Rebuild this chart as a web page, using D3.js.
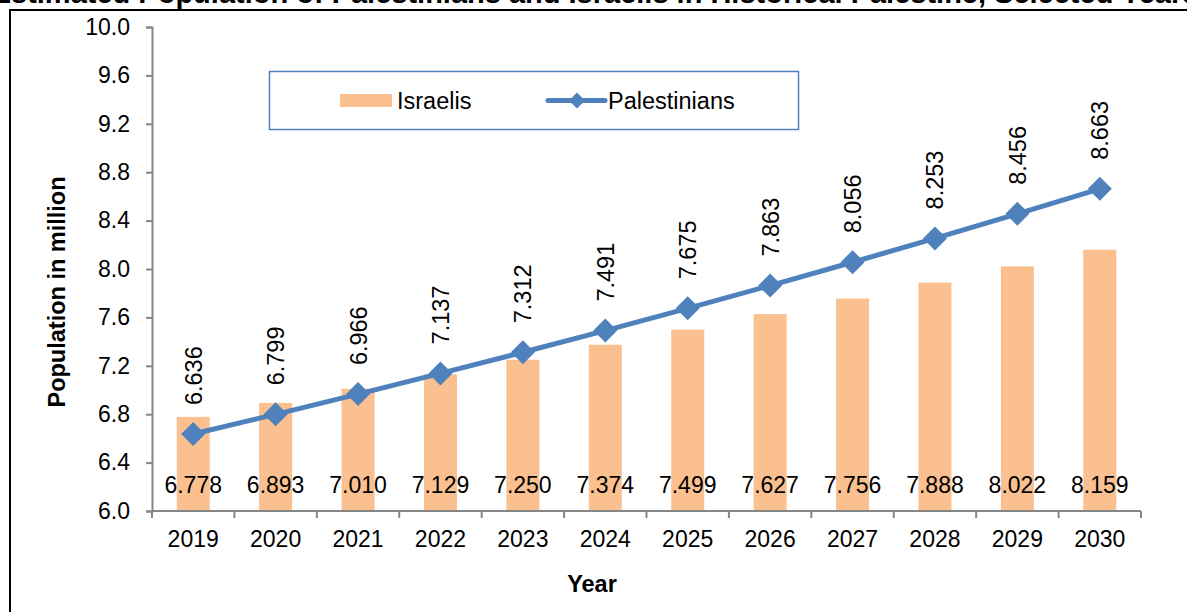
<!DOCTYPE html>
<html>
<head>
<meta charset="utf-8">
<script src="https://cdn.jsdelivr.net/npm/d3@7"></script>
<style>
  body { margin: 0; background: #fff; }
  svg { display: block; font-family: Arial, "Liberation Sans", sans-serif; }
</style>
</head>
<body>
<div id="chart"></div>
<script>
// chart data
const years = ["2019", "2020", "2021", "2022", "2023", "2024", "2025", "2026", "2027", "2028", "2029", "2030"];
const israelis = [6.778, 6.893, 7.010, 7.129, 7.250, 7.374, 7.499, 7.627, 7.756, 7.888, 8.022, 8.159];
const palestinians = [6.636, 6.799, 6.966, 7.137, 7.312, 7.491, 7.675, 7.863, 8.056, 8.253, 8.456, 8.663];
const yTicks = [6.0, 6.4, 6.8, 7.2, 7.6, 8.0, 8.4, 8.8, 9.2, 9.6, 10.0];
const seriesNames = ["Israelis", "Palestinians"];

const W = 1187, H = 612;
const barColor = "#FAC090", lineColor = "#4F81BD", axisColor = "#868686";
const fs = "23px";

const svg = d3.select("#chart").append("svg")
    .attr("width", W)
    .attr("height", H);

// title, cut off by the top edge like in the source picture
svg.append("text")
    .attr("x", 595)
    .attr("y", 3)
    .attr("text-anchor", "middle")
    .attr("font-weight", "bold")
    .attr("font-size", "29px")
    .text("Estimated Population of Palestinians and Israelis in Historical Palestine, Selected Years");

// outer frame (right and bottom edges fall outside the picture)
svg.append("rect")
    .attr("x", 10).attr("y", 10)
    .attr("width", 1200).attr("height", 640)
    .attr("fill", "none")
    .attr("stroke", "#000")
    .attr("stroke-width", 2);

const xEdge = d3.scaleBand().domain(years).range([152, 1141]);
const y = d3.scaleLinear().domain([6.0, 10.0]).range([511, 27]);
const cx = d => xEdge(d) + xEdge.bandwidth() / 2;

// bars
svg.selectAll(".bar")
    .data(years)
    .enter()
    .append("rect")
    .attr("class", "bar")
    .attr("x", d => cx(d) - 16.5)
    .attr("width", 33)
    .attr("y", (d, i) => y(israelis[i]))
    .attr("height", (d, i) => y(6.0) - y(israelis[i]))
    .attr("fill", barColor);

// bar labels
svg.selectAll(".barLabel")
    .data(years)
    .enter()
    .append("text")
    .attr("x", d => cx(d))
    .attr("y", 493)
    .attr("text-anchor", "middle")
    .attr("font-size", fs)
    .text((d, i) => israelis[i].toFixed(3));

// y axis
const yAxis = svg.append("g")
    .attr("transform", "translate(152,0)")
    .call(d3.axisLeft(y).tickValues(yTicks).tickSize(6).tickPadding(16).tickFormat(d3.format(".1f")));
yAxis.selectAll("line, path").attr("stroke", axisColor).attr("stroke-width", 2);
yAxis.selectAll("text").attr("font-size", fs).attr("font-family", "Arial, 'Liberation Sans', sans-serif").attr("fill", "#000");

// x axis with ticks at the category edges
const xAxisG = svg.append("g").attr("transform", "translate(0,511)");
xAxisG.append("line")
    .attr("x1", 152).attr("x2", 1141)
    .attr("stroke", axisColor).attr("stroke-width", 2);
const edges = years.map(d => xEdge(d)).concat([xEdge(years[years.length - 1]) + xEdge.bandwidth()]);
xAxisG.selectAll(".edgeTick")
    .data(edges)
    .enter()
    .append("line")
    .attr("x1", d => d).attr("x2", d => d)
    .attr("y1", 0).attr("y2", 7)
    .attr("stroke", axisColor).attr("stroke-width", 2);
xAxisG.selectAll(".yearLabel")
    .data(years)
    .enter()
    .append("text")
    .attr("x", d => cx(d))
    .attr("y", 36)
    .attr("text-anchor", "middle")
    .attr("font-size", fs)
    .text(d => d);

// line series
const line = d3.line()
    .x(d => cx(d.year))
    .y(d => y(d.v));
const linePts = years.map((d, i) => ({year: d, v: palestinians[i]}));
svg.append("path")
    .datum(linePts)
    .attr("fill", "none")
    .attr("stroke", lineColor)
    .attr("stroke-width", 5)
    .attr("d", line);

const diamond = s => `M0,${-s}L${s},0L0,${s}L${-s},0Z`;
svg.selectAll(".marker")
    .data(linePts)
    .enter()
    .append("path")
    .attr("transform", d => `translate(${cx(d.year)},${y(d.v)})`)
    .attr("d", diamond(12))
    .attr("fill", lineColor);

// rotated line labels
svg.selectAll(".lineLabel")
    .data(linePts)
    .enter()
    .append("text")
    .attr("transform", d => `translate(${cx(d.year)},${y(d.v) - 29}) rotate(-90)`)
    .attr("dy", "0.36em")
    .attr("font-size", "23.5px")
    .text(d => d.v.toFixed(3));

// axis titles
svg.append("text")
    .attr("transform", "translate(57,292) rotate(-90)")
    .attr("text-anchor", "middle")
    .attr("dy", "0.36em")
    .attr("font-weight", "bold")
    .attr("font-size", "23.5px")
    .text("Population in million");

svg.append("text")
    .attr("x", 592)
    .attr("y", 592)
    .attr("text-anchor", "middle")
    .attr("font-weight", "bold")
    .attr("font-size", "23.5px")
    .text("Year");

// legend
const legend = svg.append("g");
legend.append("rect")
    .attr("x", 269.5).attr("y", 71.5)
    .attr("width", 529).attr("height", 58)
    .attr("fill", "#fff")
    .attr("stroke", lineColor)
    .attr("stroke-width", 1.5);
legend.append("rect")
    .attr("x", 340).attr("y", 94)
    .attr("width", 52).attr("height", 13)
    .attr("fill", barColor);
legend.append("text")
    .attr("x", 397).attr("y", 109)
    .attr("font-size", "23.5px")
    .text(seriesNames[0]);
legend.append("line")
    .attr("x1", 548).attr("x2", 605)
    .attr("y1", 100.5).attr("y2", 100.5)
    .attr("stroke", lineColor)
    .attr("stroke-width", 5)
    .attr("stroke-linecap", "round");
legend.append("path")
    .attr("transform", "translate(577,100.5)")
    .attr("d", diamond(8))
    .attr("fill", lineColor);
legend.append("text")
    .attr("x", 608).attr("y", 109)
    .attr("font-size", "23.5px")
    .text(seriesNames[1]);
</script>
</body>
</html>
